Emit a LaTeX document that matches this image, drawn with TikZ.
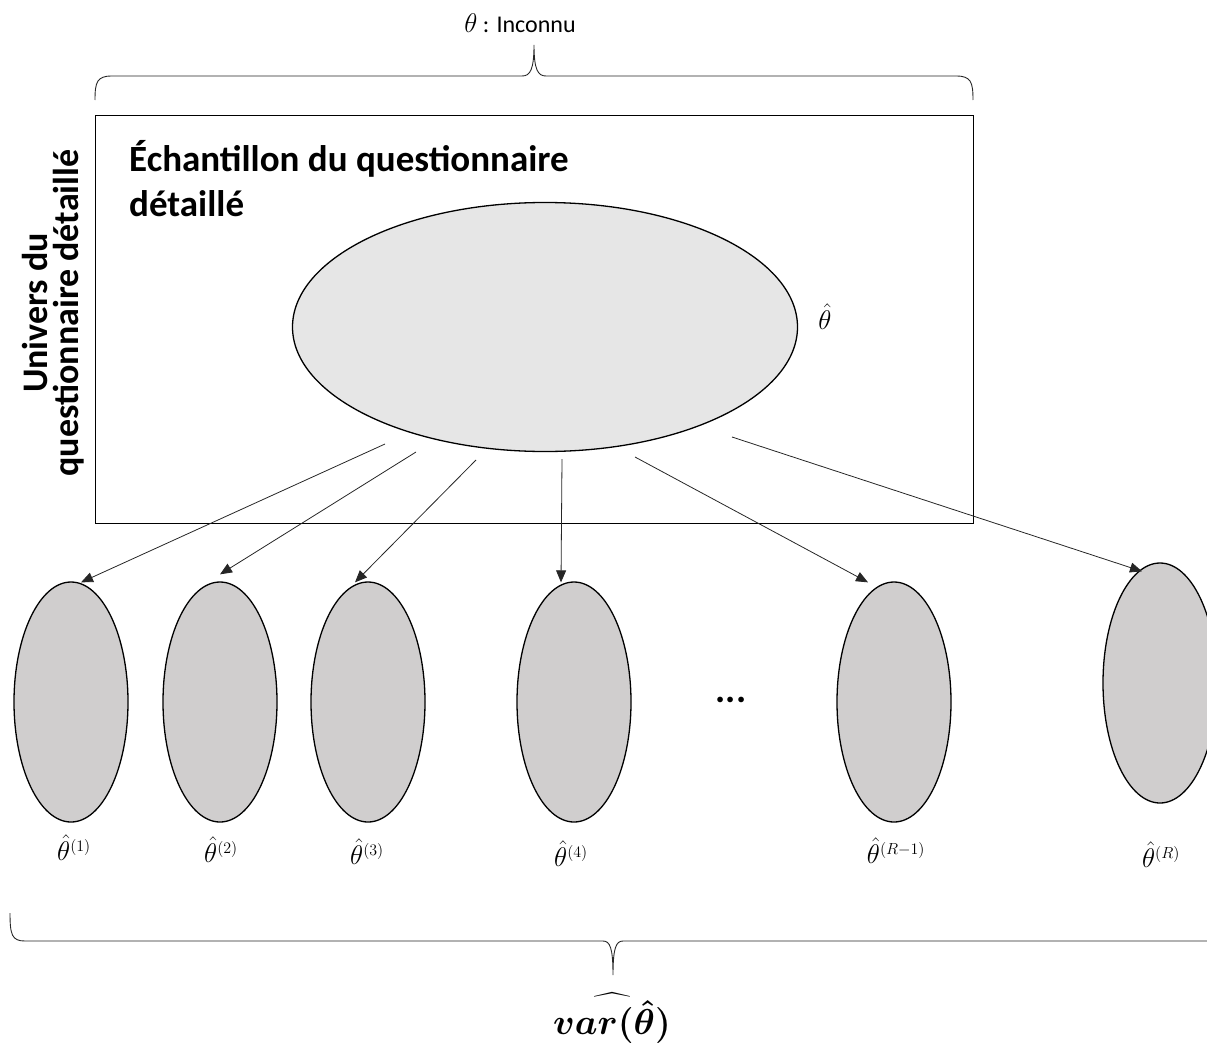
\RequirePackage{fix-cm}
\documentclass[tikz,border=0pt]{standalone}
\usepackage{amsmath}
\usepackage{bm}
\usepackage[no-math]{fontspec}
\setmainfont{Carlito}
\usetikzlibrary{shapes.geometric,arrows.meta}
\definecolor{bigfill}{HTML}{E6E6E6}
\definecolor{smallfill}{HTML}{D0CECE}
\newcommand{\supx}[1]{^{\mbox{\fontsize{16}{18}\selectfont$(#1)$}}}
\begin{document}
\begin{tikzpicture}[x=1pt,y=-1pt,
  bigell/.style={ellipse, draw, line width=1.3pt, fill=bigfill, inner sep=0pt},
  smallell/.style={ellipse, draw, line width=1.3pt, fill=smallfill, minimum width=114pt, minimum height=240pt, inner sep=0pt},
  arr/.style={-{Triangle[length=12pt,width=10pt]}, line width=0.8pt, draw=black!85},
  lab/.style={font=\fontsize{27}{30}\selectfont, inner sep=0pt},
  bracestyle/.style={line width=0.9pt, draw=black!85}]
\useasboundingbox (0,0) rectangle (1207,1044);
% top brace and label
\draw[bracestyle] (95,100) .. controls (95,82) and (97,76) .. (112,76) -- (522,76)
  .. controls (530,76) and (534,70) .. (534,45) .. controls (534,70) and (538,76) .. (546,76)
  -- (956,76) .. controls (971,76) and (973,82) .. (973,100);
\node[inner sep=0pt] (toplab) at (520,23) {{\fontsize{27}{30}\selectfont$\theta$}\fontsize{24}{28}\selectfont\ : Inconnu};
% universe box
\node[draw, line width=1.3pt, minimum width=878pt, minimum height=408pt, inner sep=0pt, anchor=north west] (univ) at (95,115) {};
\node[anchor=north west, align=left, inner sep=0pt, font=\bfseries\fontsize{37}{45}\selectfont] (title) at (129,140) {Échantillon du questionnaire\\détaillé};
\node[rotate=90, align=center, inner sep=0pt, font=\bfseries\fontsize{36}{31}\selectfont] (univtxt) at (53,313) {Univers du\\questionnaire détaillé};
% big ellipse
\node[bigell, minimum width=505pt, minimum height=249pt] (big) at (545,327) {};
\node[lab] (biglab) at (825,317) {$\hat{\theta}$};
% small ellipses
\node[smallell] (e1) at (71,702) {};
\node[smallell] (e2) at (220,702) {};
\node[smallell] (e3) at (368,702) {};
\node[smallell] (e4) at (574,702) {};
\node[smallell] (e5) at (894,702) {};
\node[smallell] (e6) at (1160,683) {};
\node[font=\bfseries\fontsize{38}{40}\selectfont, inner sep=0pt] (dots) at (731,700) {...};
% labels
\node[lab] (l1) at (74,848) {$\hat{\theta}\supx{1}$};
\node[lab] (l2) at (221,850) {$\hat{\theta}\supx{2}$};
\node[lab] (l3) at (367,852) {$\hat{\theta}\supx{3}$};
\node[lab] (l4) at (571,854) {$\hat{\theta}\supx{4}$};
\node[lab] (l5) at (896,851) {$\hat{\theta}\supx{R{-}1}$};
\node[lab] (l6) at (1161,855) {$\hat{\theta}\supx{R}$};
% arrow start points
\coordinate (s1) at (385,444);
\coordinate (s2) at (416,452);
\coordinate (s3) at (476,460);
\coordinate (s4) at (562,459);
\coordinate (s5) at (635,457);
\coordinate (s6) at (732,437);
\draw[arr] (s1) -- ([xshift=10pt,yshift=-1pt]e1.north);
\draw[arr] (s2) -- ([yshift=7pt]e2.north);
\draw[arr] (s3) -- ([xshift=-13pt,yshift=-1pt]e3.north);
\draw[arr] (s4) -- ([xshift=-13pt,yshift=-1pt]e4.north);
\draw[arr] (s5) -- ([xshift=-26pt,yshift=-1pt]e5.north);
\draw[arr] (s6) -- ([xshift=-18pt,yshift=-9pt]e6.north);
% bottom brace and formula
\draw[bracestyle] (10,913) .. controls (10,935) and (12,941) .. (25,941) -- (603,941)
  .. controls (610,941) and (613,948) .. (613,975) .. controls (613,948) and (616,941) .. (623,941)
  -- (1210,941);
\node[inner sep=0pt] (varlab) at (612,1018) {\fontsize{36}{40}\selectfont$\bm{\widehat{var(\hat{\theta})}}$};
\end{tikzpicture}
\end{document}
